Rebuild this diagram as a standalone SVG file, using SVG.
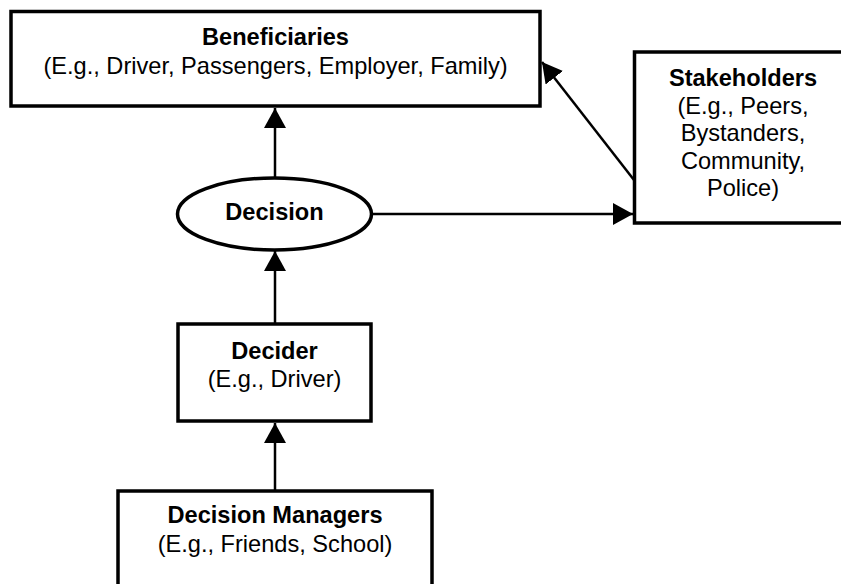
<svg xmlns="http://www.w3.org/2000/svg" width="841" height="584" viewBox="0 0 841 584">
<defs>
<style>
.box{fill:#fff;stroke:#000;stroke-width:3.5}
.t{font-family:"Liberation Sans",Arial,sans-serif;font-size:23.6px;fill:#000;text-anchor:middle}
.b{font-weight:bold}
.c{stroke:#000;stroke-width:2.5;fill:none}
</style>
<marker id="ah" markerUnits="userSpaceOnUse" markerWidth="21" markerHeight="22" refX="20" refY="11" orient="auto" viewBox="0 0 21 22">
<path d="M0,0 L20,11 L0,22 z" fill="#000"/>
</marker>
</defs>
<rect width="841" height="584" fill="#fff"/>
<g id="connectors">
<line class="c" x1="275" y1="178" x2="275" y2="108" marker-end="url(#ah)"/>
<line class="c" x1="275" y1="324" x2="275" y2="251" marker-end="url(#ah)"/>
<line class="c" x1="275" y1="491" x2="275" y2="423" marker-end="url(#ah)"/>
<line class="c" x1="372" y1="214" x2="633" y2="214" marker-end="url(#ah)"/>
<line class="c" x1="634" y1="180" x2="542" y2="62" marker-end="url(#ah)"/>
</g>
<g id="beneficiaries">
<rect class="box" x="11" y="11.5" width="529" height="94.5"/>
<text class="t b" x="275.5" y="45">Beneficiaries</text>
<text class="t" x="275.5" y="74">(E.g., Driver, Passengers, Employer, Family)</text>
</g>
<g id="stakeholders">
<rect class="box" x="634.5" y="52" width="212" height="171"/>
<text class="t b" x="743" y="86">Stakeholders</text>
<text class="t" x="743" y="113.5">(E.g., Peers,</text>
<text class="t" x="743" y="141">Bystanders,</text>
<text class="t" x="743" y="168.5">Community,</text>
<text class="t" x="743" y="196">Police)</text>
</g>
<g id="decision">
<ellipse class="box" cx="274.5" cy="214" rx="97" ry="36"/>
<text class="t b" x="274.5" y="220">Decision</text>
</g>
<g id="decider">
<rect class="box" x="178" y="324" width="193" height="97"/>
<text class="t b" x="274.5" y="359">Decider</text>
<text class="t" x="274.5" y="387">(E.g., Driver)</text>
</g>
<g id="decision-managers">
<rect class="box" x="118" y="491" width="314" height="100"/>
<text class="t b" x="275" y="523">Decision Managers</text>
<text class="t" x="275" y="552">(E.g., Friends, School)</text>
</g>
</svg>
